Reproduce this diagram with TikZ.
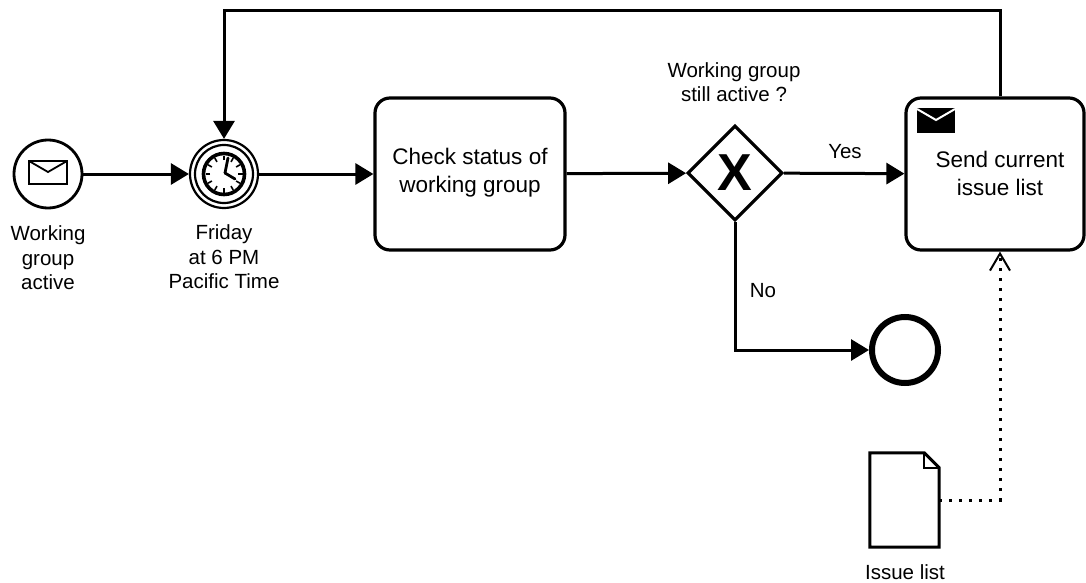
\documentclass[tikz,border=0pt]{standalone}
\usepackage{fontspec}
\setmainfont{Liberation Sans}
\usetikzlibrary{arrows.meta,shapes.geometric,calc}
\begin{document}
\begin{tikzpicture}[x=1pt,y=-1pt,
  flow/.style={line width=3pt,-{Triangle[length=18pt,width=21pt]}},
  assoc/.style={line width=3pt,dash pattern=on 3pt off 7pt,-{Straight Barb[length=17pt,width=20pt,line width=2pt]}},
  lbl/.style={font=\fontsize{20.5}{24.5}\selectfont,align=center,inner sep=0pt},
  tasktxt/.style={font=\fontsize{22.5}{28}\selectfont,align=center,inner sep=0pt},
  taskbox/.style={draw,line width=3.2pt,rounded corners=15pt,minimum height=152pt,inner sep=0pt},
  evt/.style={circle,draw,minimum size=68pt,inner sep=0pt}
]
\useasboundingbox (0,0) rectangle (1086,583);

% nodes
\node[evt,line width=2.8pt] (start) at (48,174) {};
\node[evt,line width=2.2pt] (timer) at (224,174) {};
\node[taskbox,minimum width=190pt] (check) at (470,174) {};
\node[tasktxt] (checktxt) at (470,173) {Check status of\\working group};
\node[diamond,draw,line width=3.2pt,minimum size=95pt,inner sep=0pt,shape aspect=1] (gw) at (735,173) {};
\node[font=\fontsize{52}{52}\selectfont\bfseries,inner sep=0pt] (gwx) at (735,173) {X};
\node[taskbox,minimum width=178pt] (send) at (995,174) {};
\node[tasktxt] (sendtxt) at (1000,173) {Send current\\issue list};
\node[evt,line width=6pt,minimum size=66pt] (end) at (905,350) {};
\node[minimum width=69pt,minimum height=94pt,inner sep=0pt] (doc) at (904.5,500) {};

% labels
\node[lbl] (startlbl) at (48,258) {Working\\group\\active};
\node[lbl] (timerlbl) at (224,257) {Friday\\at 6 PM\\Pacific Time};
\node[lbl] (gwlbl) at (734,82) {Working group\\still active ?};
\node[lbl] (yes) at (845,152) {Yes};
\node[lbl] (no) at (763,291) {No};
\node[lbl] (doclbl) at (905,572) {Issue list};

% start envelope
\begin{scope}[shift={(start.center)},line width=1.8pt,line join=miter]
  \draw (-19,-13) rectangle (19,10);
  \draw (-19,-13) -- (0,-2) -- (19,-13);
\end{scope}

% timer
\draw[line width=2.2pt] (timer.center) circle[radius=29pt];
\begin{scope}[shift={(timer.center)}]
  \draw[line width=3.6pt] (0,0) circle[radius=20.5pt];
  \foreach \a in {0,30,...,330}
    \draw[line width=1.6pt] (\a:14pt) -- (\a:18.5pt);
  \draw[line width=2.8pt,line cap=round] (1,-1) -- (4,-16);
  \draw[line width=2.8pt,line cap=round] (1,-1) -- (11,5);
\end{scope}

% send envelope
\fill (917,108) rectangle (955,133);
\draw[white,line width=2pt] (917,109) -- (936,120) -- (955,109);

% data object
\draw[line width=3pt,line join=miter] (doc.north west) -- ([xshift=-15pt]doc.north east) -- ([yshift=-15pt]doc.north east) -- (doc.south east) -- (doc.south west) -- cycle;
\draw[line width=2.4pt,line join=miter] ([xshift=-15pt]doc.north east) -- ([xshift=-15pt,yshift=-15pt]doc.north east) -- ([yshift=-15pt]doc.north east);

% flows
\draw[flow] (start) -- (timer);
\draw[flow] (timer) -- (check);
\draw[flow] (check) -- (gw);
\draw[flow] (gw) -- (send);
\draw[flow] (gw.south) |- (end.west);
\draw[flow] ([xshift=5pt]send.north) -- ++(0,-86) -| (timer.north);
\draw[assoc] (doc.east) -| ([xshift=5pt]send.south);
\end{tikzpicture}
\end{document}
